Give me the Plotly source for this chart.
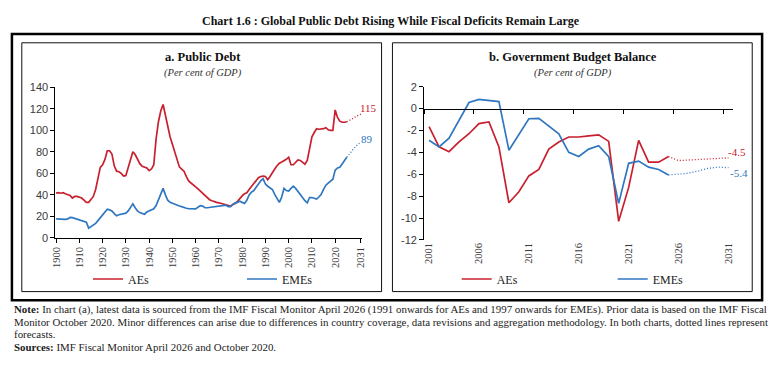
import plotly.graph_objects as go

# ---------------- DATA ----------------
# Panel a: Public debt (per cent of GDP), 1900-2025 actual
debt_years = list(range(1900, 2026))
ae_debt = [
    41.6, 42.0, 41.5, 42.0, 41.0, 40.5, 39.5, 37.0, 38.5, 38.5,      # 1900s
    38.0, 37.0, 35.0, 33.0, 33.0, 35.5, 38.5, 45.0, 55.0, 65.5,      # 1910s
    68.0, 73.0, 81.0, 81.0, 78.0, 67.0, 62.0, 61.5, 60.0, 57.5,      # 1920s
    58.0, 66.0, 74.0, 80.0, 77.5, 73.0, 69.0, 66.5, 66.0, 65.0,      # 1930s
    62.5, 64.0, 68.0, 92.0, 108.0, 118.0, 124.0, 113.0, 103.0, 94.0, # 1940s
    87.0, 80.0, 72.0, 66.0, 64.0, 62.0, 57.0, 53.0, 51.0, 49.5,      # 1950s
    47.5, 45.5, 43.5, 41.0, 39.0, 37.5, 35.5, 34.5, 33.5, 33.0,      # 1960s
    32.6, 32.0, 31.0, 30.5, 30.0, 29.5, 31.0, 32.0, 34.0, 37.0,      # 1970s
    39.0, 41.0, 42.0, 45.0, 48.0, 51.0, 54.0, 56.0, 57.0, 57.5,      # 1980s
    57.0, 54.0, 57.0, 61.0, 64.0, 67.0, 69.5, 70.5, 71.5, 73.0,      # 1990s
    75.0, 68.0, 68.0, 70.0, 72.5, 72.0, 70.0, 68.5, 72.0, 85.0,      # 2000s
    94.0, 98.0, 101.5, 101.0, 101.0, 101.5, 102.5, 100.5, 100.0, 100.0,  # 2010s
    119.0, 112.0, 108.5, 107.5, 107.5, 108.0,                        # 2020-2025
]
eme_debt = [
    17.6, 17.5, 17.2, 17.0, 17.2, 17.6, 19.0, 18.8, 18.0, 17.5,      # 1900s
    17.0, 16.0, 15.5, 14.6, 9.0, 10.5, 11.5, 13.5, 16.0, 18.5,       # 1910s
    21.0, 23.5, 26.6, 26.0, 25.0, 22.5, 20.5, 21.5, 22.0, 22.5,      # 1920s
    23.0, 25.0, 29.0, 31.7, 28.0, 25.0, 23.5, 22.5, 22.0, 24.0,      # 1930s
    25.0, 25.5, 27.0, 30.0, 35.6, 42.0, 46.0, 40.0, 35.0, 33.0,      # 1940s
    32.0, 31.0, 30.0, 29.6, 29.0, 28.0, 27.5, 27.2, 27.0, 27.0,      # 1950s
    27.0, 28.5, 30.0, 29.5, 28.0, 28.0, 28.3, 28.5, 29.0, 29.5,      # 1960s
    30.0, 30.0, 30.0, 30.5, 29.0, 29.0, 31.0, 32.6, 33.0, 34.0,      # 1970s
    33.0, 32.0, 35.0, 40.0, 42.5, 44.0, 47.0, 50.5, 53.0, 55.0,      # 1980s
    50.0, 48.0, 46.5, 45.0, 40.5, 36.0, 33.0, 38.0, 46.0, 44.0,      # 1990s
    43.5, 46.0, 48.0, 46.0, 43.0, 40.0, 37.0, 34.5, 32.6, 37.5,      # 2000s
    37.5, 36.5, 36.0, 38.0, 40.5, 45.0, 49.0, 51.0, 53.0, 54.5,      # 2010s
    63.0, 65.0, 65.6, 69.0, 72.0, 75.0,                              # 2020-2025
]
# forecasts (dotted)
debt_fc_years = list(range(2025, 2032))
ae_debt_fc = [108.0, 109.0, 110.5, 111.5, 113.0, 114.0, 115.0]
eme_debt_fc = [75.0, 78.0, 80.5, 83.0, 85.5, 87.5, 89.0]

debt_tick_vals = [1900, 1910, 1920, 1930, 1940, 1950, 1960, 1970, 1980, 1990, 2000, 2010, 2020, 2031]
debt_tick_text = [str(v) for v in debt_tick_vals]
debt_y_ticks = [0, 20, 40, 60, 80, 100, 120, 140]

# Panel b: Government budget balance (per cent of GDP), 2001-2025 actual
bal_years = list(range(2001, 2026))
ae_bal = [-1.64, -3.5, -3.94, -3.05, -2.3, -1.37, -1.22, -3.5, -8.6, -7.6,
          -6.15, -5.56, -3.7, -3.05, -2.6, -2.6, -2.5, -2.4, -3.0, -10.3,
          -7.2, -2.9, -4.9, -4.9, -4.38]
eme_bal = [-2.9, -3.5, -2.7, -1.1, 0.55, 0.84, 0.75, 0.64, -3.8, -2.3,
           -0.93, -0.9, -1.6, -2.3, -4.0, -4.38, -3.7, -3.4, -4.4, -8.66,
           -5.0, -4.8, -5.35, -5.56, -6.06]
bal_fc_years = list(range(2025, 2032))
ae_bal_fc = [-4.38, -4.75, -4.7, -4.65, -4.6, -4.55, -4.5]
eme_bal_fc = [-6.06, -6.0, -5.9, -5.7, -5.45, -5.35, -5.4]

bal_tick_vals = [2001, 2006, 2011, 2016, 2021, 2026, 2031]
bal_tick_text = [str(v) for v in bal_tick_vals]
bal_y_ticks = [2, 0, -2, -4, -6, -8, -10, -12]
bal_y_text = [str(v) if v >= 0 else "-" + str(-v) for v in bal_y_ticks]

series_names = ["AEs", "EMEs"]

# ---------------- STYLE ----------------
RED = "#C8202F"
BLUE = "#2F77C0"
W, H = 775, 376
SERIF = "Liberation Serif, DejaVu Serif, serif"
SANS = "Liberation Sans, Arial, sans-serif"
TICK_COL = "#3a3a3a"
DOT = "1px,2px"

def px(x):
    return x / W

def py(y):
    return 1 - y / H

fig = go.Figure()

# Panel a traces
fig.add_trace(go.Scatter(x=debt_years, y=ae_debt, mode="lines", name=series_names[0],
                         line=dict(color=RED, width=1.7), xaxis="x", yaxis="y", legend="legend"))
fig.add_trace(go.Scatter(x=debt_years, y=eme_debt, mode="lines", name=series_names[1],
                         line=dict(color=BLUE, width=1.7), xaxis="x", yaxis="y", legend="legend"))
fig.add_trace(go.Scatter(x=debt_fc_years, y=ae_debt_fc, mode="lines", showlegend=False,
                         line=dict(color=RED, width=1.3, dash=DOT), xaxis="x", yaxis="y"))
fig.add_trace(go.Scatter(x=debt_fc_years, y=eme_debt_fc, mode="lines", showlegend=False,
                         line=dict(color=BLUE, width=1.3, dash=DOT), xaxis="x", yaxis="y"))

# Panel b traces
fig.add_trace(go.Scatter(x=bal_years, y=ae_bal, mode="lines", name=series_names[0],
                         line=dict(color=RED, width=1.7), xaxis="x2", yaxis="y2", legend="legend2"))
fig.add_trace(go.Scatter(x=bal_years, y=eme_bal, mode="lines", name=series_names[1],
                         line=dict(color=BLUE, width=1.7), xaxis="x2", yaxis="y2", legend="legend2"))
fig.add_trace(go.Scatter(x=bal_fc_years, y=ae_bal_fc, mode="lines", showlegend=False,
                         line=dict(color=RED, width=1.3, dash=DOT), xaxis="x3", yaxis="y2"))
fig.add_trace(go.Scatter(x=bal_fc_years, y=eme_bal_fc, mode="lines", showlegend=False,
                         line=dict(color=BLUE, width=1.3, dash=DOT), xaxis="x3", yaxis="y2"))

# ---------------- AXES ----------------
dom_a_x = [px(51), px(361)]
dom_a_y = [py(239.5), py(84)]
dom_b_x = [px(424), px(737)]
dom_b_y = [py(241.7), py(83.3)]
b_yrange = [-12, 2]
zero_pos = dom_b_y[0] + (0 - b_yrange[0]) / (b_yrange[1] - b_yrange[0]) * (dom_b_y[1] - dom_b_y[0])

fig.update_layout(
    xaxis=dict(domain=dom_a_x, range=[1899.7, 2031.45], anchor="y",
               tickmode="array", tickvals=debt_tick_vals, ticktext=debt_tick_text,
               tickangle=-90, ticks="outside", ticklen=4, tickcolor="#000",
               showline=True, linecolor="#000", linewidth=1, showgrid=False, zeroline=False,
               tickfont=dict(family=SERIF, size=10.5, color=TICK_COL)),
    yaxis=dict(domain=dom_a_y, range=[0, 140], anchor="x",
               tickmode="array", tickvals=debt_y_ticks, ticktext=[str(v) for v in debt_y_ticks],
               ticks="outside", ticklen=4, tickcolor="#000",
               showline=True, linecolor="#000", linewidth=1, showgrid=False, zeroline=False,
               tickfont=dict(family=SANS, size=11, color=TICK_COL)),
    xaxis2=dict(domain=dom_b_x, range=[2000.5, 2031.5], anchor="y2",
                tickmode="array", tickvals=bal_tick_vals, ticktext=bal_tick_text,
                tickangle=-90, ticks="", showline=False, showgrid=False, zeroline=False,
                tickfont=dict(family=SERIF, size=10.5, color=TICK_COL)),
    xaxis3=dict(domain=dom_b_x, range=[2000.5, 2031.5], overlaying="x2", anchor="free",
                position=zero_pos, tickmode="array",
                tickvals=[2000.5, 2005.5, 2010.5, 2015.5, 2020.5, 2025.5, 2030.5],
                showticklabels=False, ticks="outside", ticklen=4, tickcolor="#000",
                showline=True, linecolor="#000", linewidth=1, showgrid=False, zeroline=False),
    yaxis2=dict(domain=dom_b_y, range=b_yrange, anchor="x2",
                tickmode="array", tickvals=bal_y_ticks, ticktext=bal_y_text,
                ticks="outside", ticklen=4, tickcolor="#000",
                showline=True, linecolor="#000", linewidth=1, showgrid=False, zeroline=False,
                tickfont=dict(family=SANS, size=11, color=TICK_COL)),
)

# ---------------- LEGENDS ----------------
fig.update_layout(
    legend=dict(orientation="h", x=px(84), y=py(282), xanchor="left", yanchor="middle",
                entrywidthmode="pixels", entrywidth=109, bgcolor="rgba(0,0,0,0)",
                font=dict(family=SERIF, size=12, color="#222"), tracegroupgap=0),
    legend2=dict(orientation="h", x=px(457), y=py(282), xanchor="left", yanchor="middle",
                 entrywidthmode="pixels", entrywidth=111, bgcolor="rgba(0,0,0,0)",
                 font=dict(family=SERIF, size=12, color="#222"), tracegroupgap=0),
)

# ---------------- FRAMES ----------------
shapes = [
    dict(type="rect", xref="paper", yref="paper", x0=px(7), x1=px(766), y0=py(304), y1=py(29),
         line=dict(color="#000", width=2.5)),
    dict(type="rect", xref="paper", yref="paper", x0=px(17), x1=px(381), y0=py(295), y1=py(38),
         line=dict(color="#111", width=1)),
    dict(type="rect", xref="paper", yref="paper", x0=px(392), x1=px(756), y0=py(295), y1=py(38),
         line=dict(color="#111", width=1)),
]
fig.update_layout(shapes=shapes)

# ---------------- TEXT ----------------
ann = []
ann.append(dict(text="<b>Chart 1.6 : Global Public Debt Rising While Fiscal Deficits Remain Large</b>",
                x=px(391), y=py(15), xref="paper", yref="paper", showarrow=False,
                xanchor="center", yanchor="middle", font=dict(family=SERIF, size=12, color="#111")))
ann.append(dict(text="<b>a. Public Debt</b>", x=px(200), y=py(53), xref="paper", yref="paper",
                showarrow=False, xanchor="center", yanchor="middle",
                font=dict(family=SERIF, size=12.5, color="#111")))
ann.append(dict(text="<i>(Per cent of GDP)</i>", x=px(200), y=py(69), xref="paper", yref="paper",
                showarrow=False, xanchor="center", yanchor="middle",
                font=dict(family=SERIF, size=10.5, color="#333")))
ann.append(dict(text="<b>b. Government Budget Balance</b>", x=px(575), y=py(53), xref="paper", yref="paper",
                showarrow=False, xanchor="center", yanchor="middle",
                font=dict(family=SERIF, size=12.5, color="#111")))
ann.append(dict(text="<i>(Per cent of GDP)</i>", x=px(575), y=py(69), xref="paper", yref="paper",
                showarrow=False, xanchor="center", yanchor="middle",
                font=dict(family=SERIF, size=10.5, color="#333")))

# end-of-forecast value labels
def fmt(v):
    s = f"{v:.1f}" if abs(v) < 20 else f"{v:.0f}"
    return s.replace("\u2212", "-")

ann.append(dict(text=fmt(ae_debt_fc[-1]), x=debt_fc_years[-1], y=ae_debt_fc[-1], xref="x", yref="y",
                showarrow=False, xanchor="left", yanchor="middle", xshift=-3, yshift=6,
                font=dict(family=SERIF, size=11, color=RED)))
ann.append(dict(text=fmt(eme_debt_fc[-1]), x=debt_fc_years[-1], y=eme_debt_fc[-1], xref="x", yref="y",
                showarrow=False, xanchor="left", yanchor="middle", xshift=-2, yshift=3,
                font=dict(family=SERIF, size=11, color=BLUE)))
ann.append(dict(text=fmt(ae_bal_fc[-1]), x=bal_fc_years[-1], y=ae_bal_fc[-1], xref="x2", yref="y2",
                showarrow=False, xanchor="left", yanchor="middle", xshift=-2, yshift=6,
                font=dict(family=SERIF, size=11, color=RED)))
ann.append(dict(text=fmt(eme_bal_fc[-1]), x=bal_fc_years[-1], y=eme_bal_fc[-1], xref="x2", yref="y2",
                showarrow=False, xanchor="left", yanchor="middle", xshift=0, yshift=-5,
                font=dict(family=SERIF, size=11, color=BLUE)))

note_lines = [
    "<b>Note:</b> In chart (a), latest data is sourced from the IMF Fiscal Monitor April 2026 (1991 onwards for AEs and 1997 onwards for EMEs). Prior data is based on the IMF Fiscal",
    "Monitor October 2020. Minor differences can arise due to differences in country coverage, data revisions and aggregation methodology. In both charts, dotted lines represent",
    "forecasts.",
    "<b>Sources:</b> IMF Fiscal Monitor April 2026 and October 2020.",
]
note_y = [313, 326, 339, 352]
for t, yy in zip(note_lines, note_y):
    ann.append(dict(text=t, x=px(7), y=py(yy), xref="paper", yref="paper", showarrow=False,
                    xanchor="left", yanchor="middle", align="left",
                    font=dict(family=SERIF, size=10.9, color="#222")))

fig.update_layout(annotations=ann)

fig.update_layout(width=W, height=H, margin=dict(l=0, r=0, t=0, b=0),
                  paper_bgcolor="white", plot_bgcolor="white", hovermode=False)

fig.write_html("out.html", config={"displayModeBar": False})
